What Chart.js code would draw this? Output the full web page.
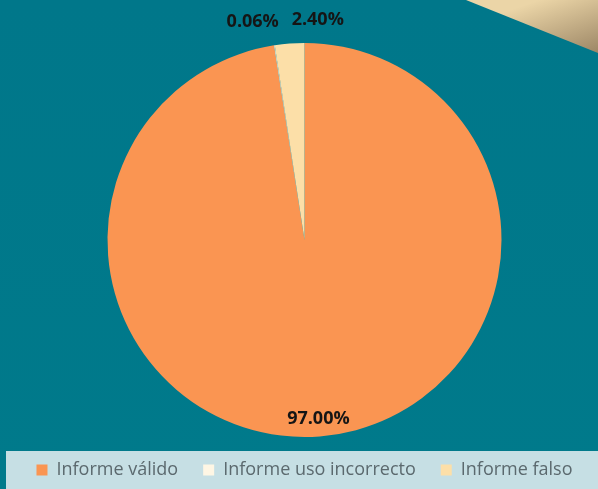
<!DOCTYPE html>
<html>
<head>
<meta charset="utf-8">
<script src="https://cdn.jsdelivr.net/npm/chart.js@4.4.1/dist/chart.umd.min.js"></script>
<style>
  html, body { margin: 0; padding: 0; background: #007A8B; }
  #wrap { width: 598px; height: 489px; position: relative; }
</style>
</head>
<body>
<div id="wrap"><canvas id="c" width="598" height="489"></canvas></div>
<script>
const categories = ['Informe válido', 'Informe uso incorrecto', 'Informe falso'];
const percentValues = [97.00, 0.06, 2.40];
const sliceColors = ['#FA9552', '#FEF6E4', '#FCDFA8'];

const bgPlugin = {
  id: 'bg',
  beforeDraw(chart) {
    const ctx = chart.ctx;
    const W = chart.width, H = chart.height;
    ctx.save();
    const g = ctx.createLinearGradient(0, 0, 0, H);
    g.addColorStop(0, '#00778A');
    g.addColorStop(1, '#007A8B');
    ctx.fillStyle = g;
    ctx.fillRect(0, 0, W, H);
    // top-right decorative triangle
    const tg = ctx.createLinearGradient(585, 58, 562, -8);
    tg.addColorStop(0, '#9C8665');
    tg.addColorStop(1, '#EBD5A7');
    ctx.fillStyle = tg;
    ctx.beginPath();
    ctx.moveTo(466, 0);
    ctx.lineTo(W, 0);
    ctx.lineTo(W, 53);
    ctx.closePath();
    ctx.fill();
    // legend band
    ctx.fillStyle = '#C6DFE4';
    ctx.fillRect(6, 451, W - 6, H - 451);
    ctx.restore();
  }
};

const labelPlugin = {
  id: 'pieLabels',
  afterDatasetsDraw(chart, args, opts) {
    const ctx = chart.ctx;
    const meta = chart.getDatasetMeta(0);
    const data = chart.data.datasets[0].data;
    ctx.save();
    ctx.font = 'bold 18px "Open Sans"';
    ctx.fillStyle = '#151515';
    ctx.textAlign = 'center';
    ctx.textBaseline = 'middle';
    meta.data.forEach((arc, i) => {
      const p = arc.getProps(['x', 'y', 'startAngle', 'endAngle', 'outerRadius'], true);
      const mid = (p.startAngle + p.endAngle) / 2;
      const place = opts.place[i];
      const r = place.inside ? p.outerRadius * place.factor : p.outerRadius + place.out;
      const x = p.x + Math.cos(mid) * r + place.dx;
      const y = p.y + Math.sin(mid) * r;
      ctx.fillText(data[i].toFixed(2) + '%', x, y);
    });
    ctx.restore();
  }
};

new Chart(document.getElementById('c'), {
  type: 'pie',
  data: {
    labels: categories,
    datasets: [{
      data: percentValues,
      backgroundColor: sliceColors,
      borderWidth: 0,
      radius: 197
    }]
  },
  options: {
    responsive: false,
    animation: false,
    layout: { padding: { top: 44, left: 11, right: 0, bottom: 0 } },
    plugins: {
      tooltip: { enabled: false },
      legend: {
        position: 'bottom',
        labels: {
          boxWidth: 11,
          boxHeight: 11,
          padding: 25,
          color: '#5B696E',
          font: { family: '"Open Sans"', size: 18 }
        }
      },
      pieLabels: {
        place: [
          { inside: true, factor: 0.91, dx: 0 },
          { inside: false, out: 24, dx: -18 },
          { inside: false, out: 24, dx: 30 }
        ]
      }
    }
  },
  plugins: [bgPlugin, labelPlugin]
});
</script>
</body>
</html>
